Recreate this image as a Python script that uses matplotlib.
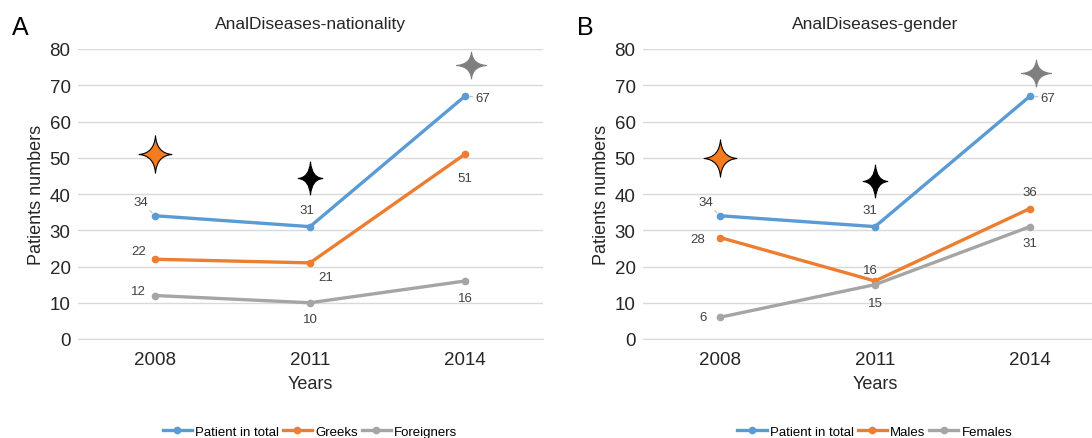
import numpy as np
import matplotlib
matplotlib.use("Agg")
import matplotlib.pyplot as plt
from matplotlib.path import Path

plt.rcParams['font.family'] = ['Liberation Sans', 'DejaVu Sans']

years = ["2008", "2011", "2014"]

# panel A - nationality
a_total = [34, 31, 67]
a_greeks = [22, 21, 51]
a_foreign = [12, 10, 16]
a_star_y = [51, 44.5, 75.5]
a_star_colors = ["#F47B20", "black", "#7F7F7F"]

# panel B - gender
b_total = [34, 31, 67]
b_males = [28, 16, 36]
b_females = [6, 15, 31]
b_star_y = [50, 43.5, 73.5]
b_star_colors = ["#F47B20", "black", "#7F7F7F"]

BLUE = "#5B9BD5"
ORANGE = "#ED7D31"
GRAY = "#A5A5A5"


def star_path(w, h, c=0.07):
    # four pointed star with concave sides
    verts = [(0, h),
             (c, c), (w, 0),
             (c, -c), (0, -h),
             (-c, -c), (-w, 0),
             (-c, c), (0, h),
             (0, h)]
    codes = [Path.MOVETO] + [Path.CURVE3, Path.CURVE3] * 4 + [Path.CLOSEPOLY]
    return Path(verts, codes)


STAR_SHAPES = [(0.88, 1.0), (0.75, 1.0), (1.0, 0.9)]
STAR_SIZES = [720, 560, 460]


def draw_panel(ax, series, names, star_y, star_colors, title, offsets):
    x = np.arange(len(years))
    colors = [BLUE, ORANGE, GRAY]
    for vals, col, name in zip(series, colors, names):
        ax.plot(x, vals, color=col, lw=2.4, marker="o", ms=4.5, label=name, zorder=3)
    for vals, offs in zip(series, offsets):
        for xi, v, (dx, dy, lead) in zip(x, vals, offs):
            arrow = None
            if lead:
                arrow = dict(arrowstyle="-", color="#BFBFBF", lw=0.8, shrinkA=0, shrinkB=3)
            ax.annotate(str(v), (xi, v), xytext=(dx, dy), textcoords="offset points",
                        ha="center", va="center", fontsize=9.5, color="#404040",
                        arrowprops=arrow)
    for i, (sy, sc) in enumerate(zip(star_y, star_colors)):
        w, h = STAR_SHAPES[i]
        ax.scatter([x[i] + (0.04 if i == 2 else 0)], [sy], marker=star_path(w, h), s=STAR_SIZES[i],
                   color=sc, edgecolors="black" if i == 0 else sc, linewidths=0.8, zorder=4)
    ax.set_xlim(-0.5, 2.5)
    ax.set_ylim(0, 80)
    ax.set_yticks(range(0, 81, 10))
    ax.set_xticks(x)
    ax.set_xticklabels(years)
    ax.tick_params(length=0, labelsize=13.5, colors="#262626", pad=5)
    ax.tick_params(axis="x", pad=9)
    ax.grid(axis="y", color="#D9D9D9", lw=1)
    ax.set_axisbelow(True)
    for s in ["top", "right", "left"]:
        ax.spines[s].set_visible(False)
    ax.spines["bottom"].set_color("#D9D9D9")
    ax.set_title(title, fontsize=12.5, color="#262626", pad=15)
    ax.set_xlabel("Years", fontsize=13, color="#262626", labelpad=5)
    ax.set_ylabel("Patients numbers", fontsize=13, color="#262626", labelpad=3)
    ax.legend(loc="center", bbox_to_anchor=(0.5, -0.32), ncol=3, frameon=False,
              fontsize=9.5, handlelength=2.2, columnspacing=0.3, handletextpad=0.25)


fig = plt.figure(figsize=(10.92, 4.39), dpi=100)
ax1 = fig.add_axes([77.5 / 1092, 1 - 340 / 439, 465 / 1092, 290 / 439])
ax2 = fig.add_axes([642.5 / 1092, 1 - 340 / 439, 465 / 1092, 290 / 439])

a_offsets = [
    [(-10, 10, True), (-2, 12, False), (13, -1, True)],
    [(-12, 6, False), (11, -10, False), (0, -17, False)],
    [(-12, 3, False), (0, -12, False), (0, -12, False)],
]
b_offsets = [
    [(-10, 10, True), (-4, 12, False), (13, -1, True)],
    [(-16, -1, False), (-3, 8, False), (0, 12, False)],
    [(-12, 0, False), (0, -13, False), (0, -12, False)],
]

draw_panel(ax1, [a_total, a_greeks, a_foreign], ["Patient in total", "Greeks", "Foreigners"],
           a_star_y, a_star_colors, "AnalDiseases-nationality", a_offsets)
draw_panel(ax2, [b_total, b_males, b_females], ["Patient in total", "Males", "Females"],
           b_star_y, b_star_colors, "AnalDiseases-gender", b_offsets)

fig.text(12 / 1092, 1 - 28 / 439, "A", fontsize=18, va="center")
fig.text(577 / 1092, 1 - 28 / 439, "B", fontsize=18, va="center")

fig.savefig("out.png", dpi=100)
